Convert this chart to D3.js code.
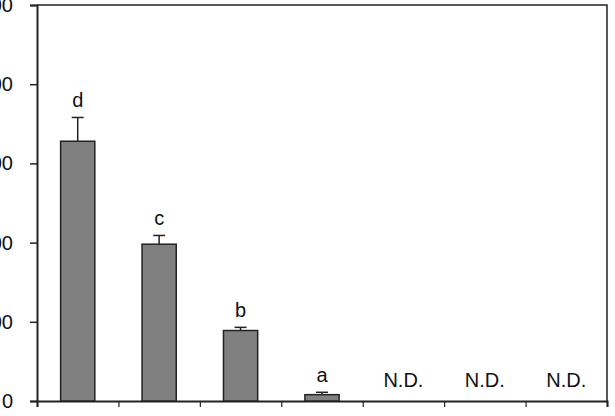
<!DOCTYPE html>
<html>
<head>
<meta charset="utf-8">
<script src="https://cdn.jsdelivr.net/npm/d3@7"></script>
<style>
	html, body { margin: 0; padding: 0; background: #fff; }
	svg { display: block; font-family: "Liberation Sans", Arial, sans-serif; }
</style>
</head>
<body>
<svg id="chart" width="615" height="416"></svg>
<script>
// categories (no x labels visible in the picture)
const categories = ['g1', 'g2', 'g3', 'g4', 'g5', 'g6', 'g7'];
// mean values, null = not detected
const values = [328, 198, 89, 8, null, null, null];
const errors = [30, 11, 4, 3, null, null, null];
const letters = ['d', 'c', 'b', 'a', 'N.D.', 'N.D.', 'N.D.'];
const yTicks = [0, 100, 200, 300, 400, 500];

let svg = d3.select('#chart'),
	margin = {top: 5, right: 8, bottom: 15, left: 37},
	width = +svg.attr('width') - margin.left - margin.right,
	height = +svg.attr('height') - margin.top - margin.bottom,
	g = svg.append('g').attr('transform', `translate(${margin.left}, ${margin.top})`);

let x = d3.scaleBand().domain(categories).range([0, width]).paddingInner(0.58).paddingOuter(0.29),
	y = d3.scaleLinear().domain([0, 500]).range([height, 0]);

// frame: top and right
g.append('path')
	.attr('d', `M0,${y(500)}H${width}V${height}`)
	.attr('fill', 'none')
	.attr('stroke', '#222')
	.attr('stroke-width', 1.5);

// y axis
let yAxis = g.append('g')
	.call(d3.axisLeft(y).tickValues(yTicks).tickSize(7).tickPadding(17));
yAxis.select('.domain').attr('stroke', '#222').attr('stroke-width', 2);
yAxis.selectAll('.tick line').attr('stroke', '#222').attr('stroke-width', 1.5);
yAxis.selectAll('.tick text')
	.attr('fill', '#111')
	.attr('font-size', 20)
	.attr('font-family', '"Liberation Sans", Arial, sans-serif');

// x axis with ticks at category boundaries
let xb = d3.scaleLinear().domain([0, categories.length]).range([0, width]);
let xAxis = g.append('g')
	.attr('transform', `translate(0, ${height})`)
	.call(d3.axisBottom(xb).tickValues(d3.range(categories.length + 1)).tickSize(6).tickFormat(''));
xAxis.select('.domain').attr('stroke', '#222').attr('stroke-width', 2);
xAxis.selectAll('.tick line').attr('stroke', '#222').attr('stroke-width', 1.2);

let data = categories.map((c, i) => ({c: c, v: values[i], e: errors[i], l: letters[i]}));
let shown = data.filter(d => d.v !== null);

// bars
g.selectAll('rect.bar')
	.data(shown)
	.enter()
	.append('rect')
	.attr('class', 'bar')
	.attr('x', d => x(d.c))
	.attr('width', x.bandwidth())
	.attr('y', d => y(d.v))
	.attr('height', d => y(0) - y(d.v))
	.attr('fill', '#808080')
	.attr('stroke', '#222')
	.attr('stroke-width', 1.5);

// error bars (upper only)
let err = g.selectAll('g.err')
	.data(shown)
	.enter()
	.append('g')
	.attr('class', 'err')
	.attr('stroke', '#222')
	.attr('stroke-width', 1.5);
err.append('line')
	.attr('x1', d => x(d.c) + x.bandwidth() / 2)
	.attr('x2', d => x(d.c) + x.bandwidth() / 2)
	.attr('y1', d => y(d.v))
	.attr('y2', d => y(d.v + d.e));
err.append('line')
	.attr('x1', d => x(d.c) + x.bandwidth() / 2 - 6)
	.attr('x2', d => x(d.c) + x.bandwidth() / 2 + 6)
	.attr('y1', d => y(d.v + d.e))
	.attr('y2', d => y(d.v + d.e));

// significance letters and N.D.
g.selectAll('text.lbl')
	.data(data)
	.enter()
	.append('text')
	.attr('class', 'lbl')
	.attr('x', d => x(d.c) + x.bandwidth() / 2)
	.attr('y', d => d.v === null ? y(0) - 14 : y(d.v + d.e) - 10)
	.attr('text-anchor', 'middle')
	.attr('font-size', 20)
	.attr('fill', '#111')
	.text(d => d.l);
</script>
</body>
</html>
